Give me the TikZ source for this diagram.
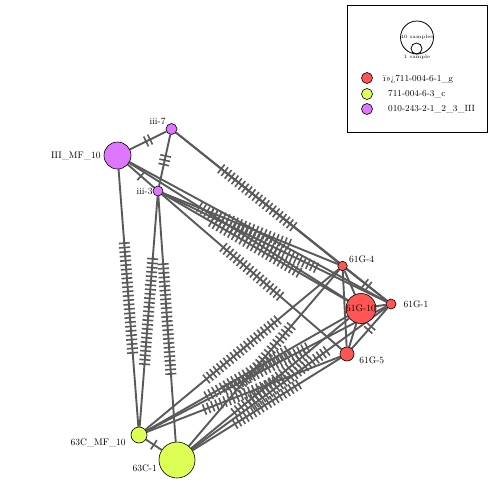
\documentclass[tikz,border=0pt]{standalone}
\usetikzlibrary{decorations.markings,backgrounds}
\definecolor{hapred}{RGB}{255,85,85}
\definecolor{hapyellow}{RGB}{221,255,85}
\definecolor{happurple}{RGB}{221,119,255}
\definecolor{edgegray}{RGB}{90,90,90}
\begin{document}
\begin{tikzpicture}[x=1pt,y=-1pt,
  hap/.style={circle, draw=black, line width=0.6pt, inner sep=0pt, minimum size=#1},
  lbl/.style={font=\fontsize{9.5}{11}\selectfont, inner sep=1pt},
  legtext/.style={font=\fontsize{9}{11}\selectfont, inner sep=0pt, anchor=west},
  edge/.style={draw=edgegray, line width=1.9pt},
  mut/.style={postaction={decorate, decoration={markings,
      mark=at position 0.5 with {\foreach \k in {1,...,#1}
        \draw[edgegray, line width=1.6pt] ({(\k-(#1+1)/2)*4.4pt},-5.5pt) -- ({(\k-(#1+1)/2)*4.4pt},5.5pt);}}}}
]
\useasboundingbox (0,0) rectangle (490,493);

% haplotypes
\node[hap=11pt, fill=happurple, label={[lbl, label distance=0pt]145:iii-7}] (iii7) at (171.5,129) {};
\node[hap=27pt, fill=happurple, label={[lbl, label distance=2pt]180:III\_MF\_10}] (IIIMF10) at (117.5,155.5) {};
\node[hap=10pt, fill=happurple, label={[lbl, label distance=-1pt]180:iii-3}] (iii3) at (158,191) {};
\node[hap=9.5pt, fill=hapred, label={[lbl, label distance=1pt]25:61G-4}] (g614) at (342.5,266) {};
\node[hap=30pt, fill=hapred, label={[lbl]center:61G-10}] (g6110) at (361,308.5) {};
\node[hap=10pt, fill=hapred, label={[lbl, label distance=6pt]0:61G-1}] (g611) at (391,304) {};
\node[hap=14pt, fill=hapred, label={[lbl, label distance=4pt]-10:61G-5}] (g615) at (347,354) {};
\node[hap=16pt, fill=hapyellow, label={[lbl, label distance=4pt]190:63C\_MF\_10}] (c63MF10) at (139,435) {};
\node[hap=36pt, fill=hapyellow, label={[lbl, label distance=1pt]190:63C-1}] (c631) at (177,460) {};

% connections
\begin{scope}[on background layer]
\foreach \a/\b in {iii7/g611, IIIMF10/g611, g614/g6110, g614/g615, g6110/g611, g6110/g615}
  \draw[edge] (\a) -- (\b);
\foreach \a/\b/\n in {IIIMF10/iii7/2, IIIMF10/iii3/1, iii7/iii3/3,
    IIIMF10/c63MF10/26, iii3/c63MF10/25, iii3/c631/26, c63MF10/c631/1,
    iii7/g614/22, iii3/g614/20, iii3/g6110/24, iii3/g611/22, iii3/g615/18,
    IIIMF10/g6110/22,
    c63MF10/g614/22, c63MF10/g6110/22, c63MF10/g611/22, c63MF10/g615/20,
    c631/g614/20, c631/g6110/22, c631/g611/22, c631/g615/18,
    g614/g611/2, g611/g615/2}
  \draw[edge, mut=\n] (\a) -- (\b);
\end{scope}

% legend
\node[draw=black, line width=0.6pt, minimum width=140pt, minimum height=127pt] (legend) at (417,68.5) {};
\node[hap=33pt, fill=none, line width=0.8pt, font=\fontsize{5}{6}\selectfont] (size10) at (417,37.5) {10 samples};
\node[hap=11pt, fill=none, line width=0.8pt] (size1) at (416.5,48.5) {};
\node[font=\fontsize{5}{6}\selectfont, inner sep=0pt] (size1lbl) at (417,57) {1 sample};
\node[hap=11pt, fill=hapred] (keyred) at (367,78) {};
\node[hap=11pt, fill=hapyellow] (keyyellow) at (367,94) {};
\node[hap=11pt, fill=happurple] (keypurple) at (367,109) {};
\node[legtext] (keyredlbl) at (383,79) {ï»¿711-004-6-1\_g};
\node[legtext] (keyyellowlbl) at (388,94) {711-004-6-3\_c};
\node[legtext] (keypurplelbl) at (388,109) {010-243-2-1\_2\_3\_III};
\end{tikzpicture}
\end{document}
